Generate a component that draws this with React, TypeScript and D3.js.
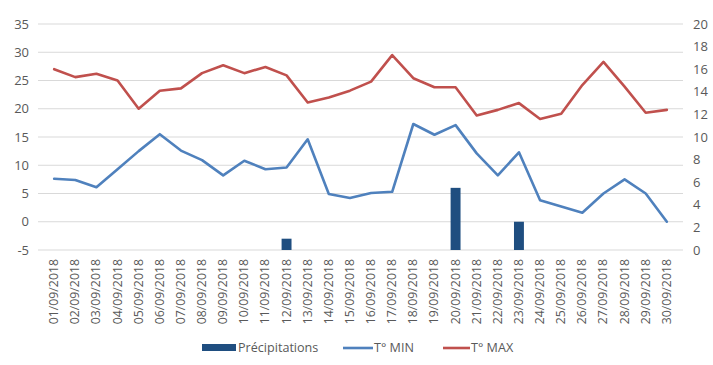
import React from "react";
import * as d3 from "d3";

const dates = Array.from({ length: 30 }, (_, i) => `${String(i + 1).padStart(2, "0")}/09/2018`);
const tMax = [27.0, 25.6, 26.2, 25.0, 20.0, 23.2, 23.6, 26.3, 27.7, 26.3, 27.4, 25.9, 21.1, 22.0, 23.2, 24.8, 29.5, 25.4, 23.8, 23.8, 18.8, 19.8, 21.0, 18.2, 19.1, 24.2, 28.3, 23.9, 19.3, 19.8];
const tMin = [7.6, 7.4, 6.1, 9.3, 12.5, 15.5, 12.6, 10.9, 8.2, 10.8, 9.3, 9.6, 14.6, 4.9, 4.2, 5.1, 5.3, 17.3, 15.4, 17.1, 12.1, 8.2, 12.3, 3.8, 2.7, 1.6, 5.0, 7.5, 5.0, 0.0];
const precip = [0, 0, 0, 0, 0, 0, 0, 0, 0, 0, 0, 1.0, 0, 0, 0, 0, 0, 0, 0, 5.5, 0, 0, 2.5, 0, 0, 0, 0, 0, 0, 0];
const leftTicks = [-5, 0, 5, 10, 15, 20, 25, 30, 35];
const rightTicks = [0, 2, 4, 6, 8, 10, 12, 14, 16, 18, 20];

const W = 713, H = 365;
const left = 38, right = 683, top = 24, bottom = 250;
const font = "Open Sans, Liberation Sans, sans-serif";
const textColor = "#595959";

export default function App() {
  const x = d3.scaleBand<string>().domain(dates).range([left, right]).padding(0.53);
  const xc = (d: string) => (x(d) as number) + x.bandwidth() / 2;
  const yL = d3.scaleLinear().domain([-5, 35]).range([bottom, top]);
  const yR = d3.scaleLinear().domain([0, 20]).range([bottom, top]);
  const lineMin = d3.line<number>().x((_, i) => xc(dates[i])).y((d) => yL(d));
  const lineMax = d3.line<number>().x((_, i) => xc(dates[i])).y((d) => yL(d));
  return (
    <svg width={W} height={H} style={{ position: "absolute", left: 0, top: 0, background: "#fff" }}>
      {leftTicks.map((t) => (
        <g key={t}>
          <line x1={left} x2={right} y1={yL(t)} y2={yL(t)} stroke="#d9d9d9" strokeWidth={1} />
          <text x={29} y={yL(t)} dy="0.35em" textAnchor="end" fontSize={13} fontFamily={font} fill={textColor}>{t}</text>
        </g>
      ))}
      {rightTicks.map((t) => (
        <text key={t} x={693} y={yR(t)} dy="0.35em" textAnchor="start" fontSize={13} fontFamily={font} fill={textColor}>{t}</text>
      ))}
      {precip.map((p, i) =>
        p > 0 ? (
          <rect key={i} x={x(dates[i])} width={x.bandwidth()} y={yR(p)} height={yR(0) - yR(p)} fill="#1f4e80" />
        ) : null
      )}
      <path d={lineMin(tMin) || ""} fill="none" stroke="#4f81bd" strokeWidth={2.6} strokeLinejoin="round" strokeLinecap="round" />
      <path d={lineMax(tMax) || ""} fill="none" stroke="#c0504d" strokeWidth={2.6} strokeLinejoin="round" strokeLinecap="round" />
      {dates.map((d) => (
        <text key={d} transform={`translate(${xc(d) + 4},${bottom + 9}) rotate(-90)`} textAnchor="end" fontSize={12.3} fontFamily={font} fill={textColor}>{d}</text>
      ))}
      <g fontSize={12.6} fontFamily={font} fill={textColor}>
        <rect x={202} y={344} width={34} height={7} fill="#1f4e80" />
        <text x={238} y={352}>Précipitations</text>
        <line x1={343} x2={373} y1={348} y2={348} stroke="#4f81bd" strokeWidth={2.6} />
        <text x={374} y={352}>T° MIN</text>
        <line x1={443} x2={470} y1={348} y2={348} stroke="#c0504d" strokeWidth={2.6} />
        <text x={471} y={352}>T° MAX</text>
      </g>
    </svg>
  );
}
